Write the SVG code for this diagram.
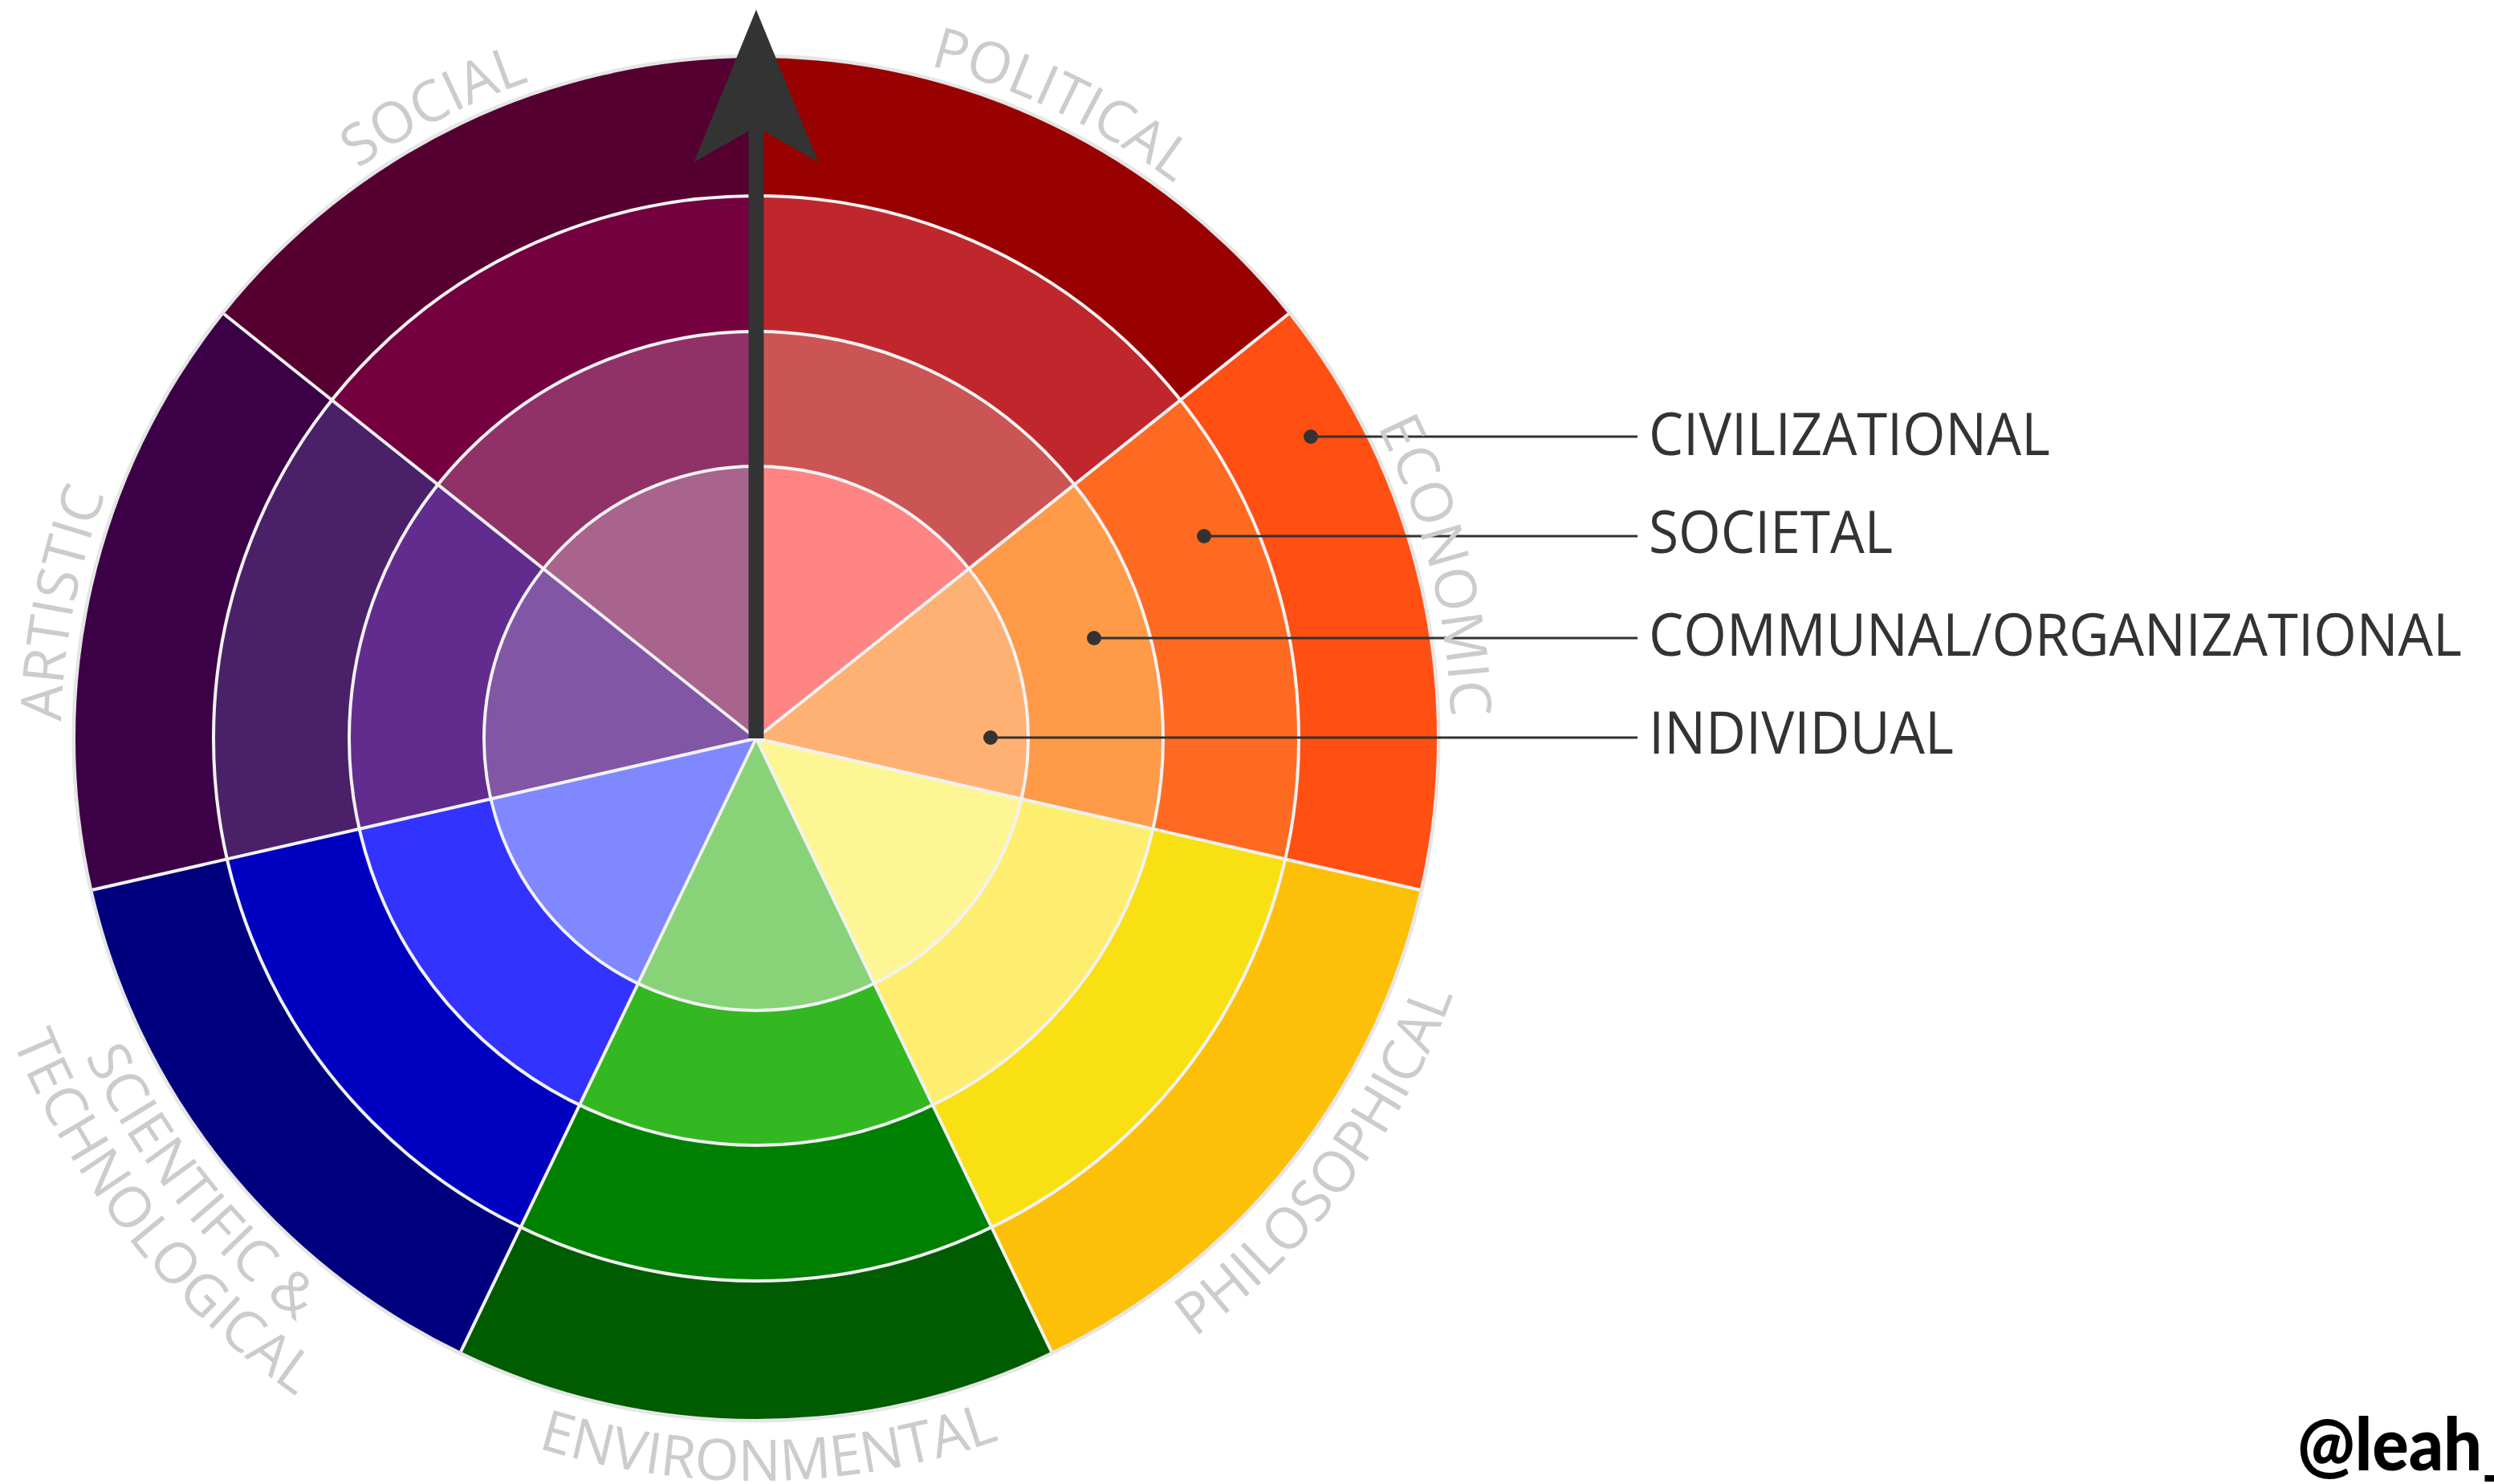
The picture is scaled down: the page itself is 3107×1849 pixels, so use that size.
<svg xmlns="http://www.w3.org/2000/svg" width="3107" height="1849" viewBox="0 0 3107 1849">
<defs>
<style>
.sep{fill:none;stroke:#f2f2f2;stroke-width:4}
.cat{font-family:"Open Sans","Liberation Sans",sans-serif;font-size:71px;fill:#cccccc}
.lvl{font-family:"Open Sans","Liberation Sans",sans-serif;font-size:74px;fill:#333333}
.lead{stroke:#333333;stroke-width:3}
.dot{fill:#333333}
</style>
<path id="arcTop" d="M329.65 307.65 A866 866 0 0 1 1554.35 307.65" fill="none"/>
<path id="arcBot" d="M287.93 1574.07 A925 925 0 0 0 1596.07 1574.07" fill="none"/>
<path id="arcBot2" d="M234.89 1627.11 A1000 1000 0 0 0 1649.11 1627.11" fill="none"/>
<marker id="head" markerUnits="userSpaceOnUse" markerWidth="200" markerHeight="170" viewBox="-50 -85 200 170" refX="0" refY="0" orient="auto" overflow="visible">
<path d="M146 0 L-44 -77.5 L0 0 L-44 77.5 Z" fill="#333333"/>
</marker>
</defs>
<rect width="3107" height="1849" fill="#ffffff"/>
<circle cx="942" cy="920" r="850" fill="none" stroke="#e6e6e6" stroke-width="5"/>

<g id="sector-political">
<path d="M942 920 L942 72 A848 848 0 0 1 1604.99 391.28Z" fill="#990000"/>
<path d="M942 920 L942 244 A676 676 0 0 1 1470.52 498.52Z" fill="#C0272D"/>
<path d="M942 920 L942 413 A507 507 0 0 1 1338.39 603.89Z" fill="#CB5555"/>
<path d="M942 920 L942 581 A339 339 0 0 1 1207.04 708.64Z" fill="#FF8585"/>
</g>
<g id="sector-economic">
<path d="M942 920 L1604.99 391.28 A848 848 0 0 1 1768.74 1108.70Z" fill="#FF4F12"/>
<path d="M942 920 L1470.52 498.52 A676 676 0 0 1 1601.05 1070.42Z" fill="#FF6A22"/>
<path d="M942 920 L1338.39 603.89 A507 507 0 0 1 1436.29 1032.82Z" fill="#FF9A48"/>
<path d="M942 920 L1207.04 708.64 A339 339 0 0 1 1272.50 995.43Z" fill="#FFB173"/>
</g>
<g id="sector-philosophical">
<path d="M942 920 L1768.74 1108.70 A848 848 0 0 1 1309.93 1684.02Z" fill="#FDC008"/>
<path d="M942 920 L1601.05 1070.42 A676 676 0 0 1 1235.30 1529.06Z" fill="#F8E012"/>
<path d="M942 920 L1436.29 1032.82 A507 507 0 0 1 1161.98 1376.79Z" fill="#FDEE70"/>
<path d="M942 920 L1272.50 995.43 A339 339 0 0 1 1089.09 1225.43Z" fill="#FEF595"/>
</g>
<g id="sector-environmental">
<path d="M942 920 L1309.93 1684.02 A848 848 0 0 1 574.07 1684.02Z" fill="#005C00"/>
<path d="M942 920 L1235.30 1529.06 A676 676 0 0 1 648.70 1529.06Z" fill="#008000"/>
<path d="M942 920 L1161.98 1376.79 A507 507 0 0 1 722.02 1376.79Z" fill="#33B822"/>
<path d="M942 920 L1089.09 1225.43 A339 339 0 0 1 794.91 1225.43Z" fill="#88D378"/>
</g>
<g id="sector-scientific">
<path d="M942 920 L574.07 1684.02 A848 848 0 0 1 115.26 1108.70Z" fill="#00007F"/>
<path d="M942 920 L648.70 1529.06 A676 676 0 0 1 282.95 1070.42Z" fill="#0000C0"/>
<path d="M942 920 L722.02 1376.79 A507 507 0 0 1 447.71 1032.82Z" fill="#3333FF"/>
<path d="M942 920 L794.91 1225.43 A339 339 0 0 1 611.50 995.43Z" fill="#8088FF"/>
</g>
<g id="sector-artistic">
<path d="M942 920 L115.26 1108.70 A848 848 0 0 1 279.01 391.28Z" fill="#3C0046"/>
<path d="M942 920 L282.95 1070.42 A676 676 0 0 1 413.48 498.52Z" fill="#4A2168"/>
<path d="M942 920 L447.71 1032.82 A507 507 0 0 1 545.61 603.89Z" fill="#612C8E"/>
<path d="M942 920 L611.50 995.43 A339 339 0 0 1 676.96 708.64Z" fill="#8056A5"/>
</g>
<g id="sector-social">
<path d="M942 920 L279.01 391.28 A848 848 0 0 1 942 72Z" fill="#550030"/>
<path d="M942 920 L413.48 498.52 A676 676 0 0 1 942 244Z" fill="#750040"/>
<path d="M942 920 L545.61 603.89 A507 507 0 0 1 942 413Z" fill="#903268"/>
<path d="M942 920 L676.96 708.64 A339 339 0 0 1 942 581Z" fill="#A8648C"/>
</g>

<g id="separators">
<circle class="sep" cx="942" cy="920" r="339"/>
<circle class="sep" cx="942" cy="920" r="507"/>
<circle class="sep" cx="942" cy="920" r="676"/>
<path class="sep" d="M942 920 L942 72 M942 920 L1604.99 391.28 M942 920 L1768.74 1108.70 M942 920 L1309.93 1684.02 M942 920 L574.07 1684.02 M942 920 L115.26 1108.70 M942 920 L279.01 391.28"/>
</g>

<g id="connectors">
<line x1="942" y1="920" x2="942" y2="158" stroke="#333333" stroke-width="19" marker-end="url(#head)"/>
<line class="lead" x1="1633" y1="544" x2="2040" y2="544"/>
<line class="lead" x1="1500" y1="668" x2="2040" y2="668"/>
<line class="lead" x1="1363" y1="795" x2="2040" y2="795"/>
<line class="lead" x1="1234" y1="919" x2="2040" y2="919"/>
<circle class="dot" cx="1633" cy="544" r="9"/>
<circle class="dot" cx="1500" cy="668" r="9"/>
<circle class="dot" cx="1363" cy="795" r="9"/>
<circle class="dot" cx="1234" cy="919" r="9"/>
</g>

<g id="level-labels">
<text class="lvl" x="2054" y="567" textLength="500" lengthAdjust="spacingAndGlyphs">CIVILIZATIONAL</text>
<text class="lvl" x="2054" y="689" textLength="304" lengthAdjust="spacingAndGlyphs">SOCIETAL</text>
<text class="lvl" x="2054" y="817" textLength="1013" lengthAdjust="spacingAndGlyphs">COMMUNAL/ORGANIZATIONAL</text>
<text class="lvl" x="2054" y="939" textLength="380" lengthAdjust="spacingAndGlyphs">INDIVIDUAL</text>
</g>

<g id="category-labels">
<g transform="rotate(25.714 942 920)"><text class="cat" text-anchor="middle"><textPath href="#arcTop" startOffset="50%">POLITICAL</textPath></text></g>
<g transform="rotate(75.8 942 920)"><text class="cat" text-anchor="middle"><textPath href="#arcTop" startOffset="50%">ECONOMIC</textPath></text></g>
<g transform="rotate(-53 942 920)"><text class="cat" text-anchor="middle"><textPath href="#arcBot" startOffset="50%">PHILOSOPHICAL</textPath></text></g>
<g transform="rotate(-1 942 920)"><text class="cat" text-anchor="middle"><textPath href="#arcBot" startOffset="50%">ENVIRONMENTAL</textPath></text></g>
<g transform="rotate(51.429 942 920)"><text class="cat" text-anchor="middle"><textPath href="#arcBot" startOffset="50%">SCIENTIFIC &amp;</textPath></text><text class="cat" text-anchor="middle"><textPath href="#arcBot2" startOffset="50%">TECHNOLOGICAL</textPath></text></g>
<g transform="rotate(-79 942 920)"><text class="cat" text-anchor="middle"><textPath href="#arcTop" startOffset="50%">ARTISTIC</textPath></text></g>
<g transform="rotate(-27 942 920)"><text class="cat" text-anchor="middle"><textPath href="#arcTop" startOffset="50%">SOCIAL</textPath></text></g>
</g>

<text id="credit" x="2862" y="1832" font-family="Lato, 'Liberation Sans', sans-serif" font-weight="900" font-size="92" fill="#000000" textLength="270" lengthAdjust="spacingAndGlyphs">@leah_</text>
</svg>
